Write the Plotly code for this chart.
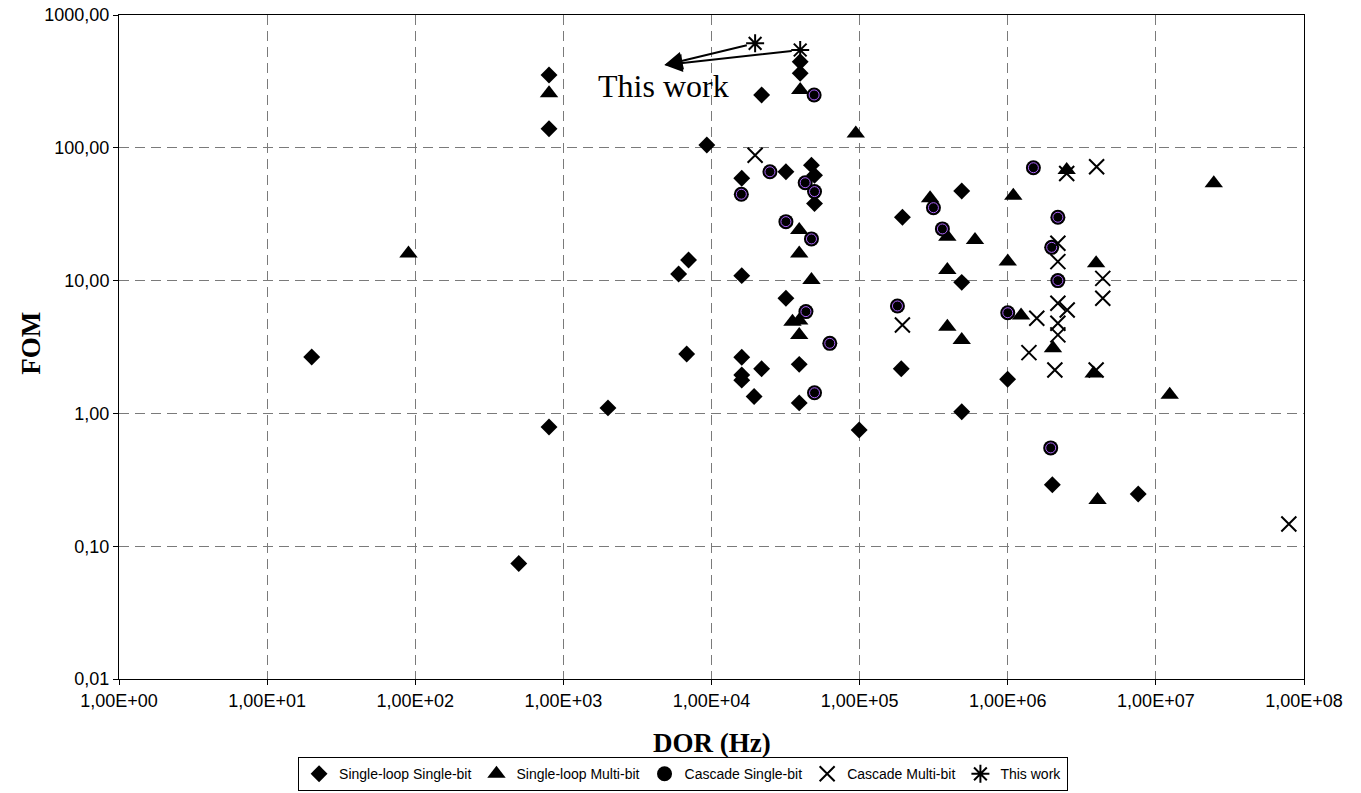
import numpy as np
import plotly.graph_objects as go

# ---------------- data ----------------
ss_x = [20, 500, 800, 800, 800, 2000, 6000, 7000, 6800, 9300, 16000, 16000, 16000, 16000, 16000,
        21800, 19400, 21800, 31800, 31800, 39100, 39100, 39700, 39700, 47300, 49600, 49600,
        99300, 194500, 191000, 489000, 489000, 489000, 998000, 2.0e6, 7.6e6]
ss_y = [2.66, 0.074, 0.79, 353, 139, 1.1, 11.2, 14.3, 2.8, 105, 59, 10.9, 2.65, 1.95, 1.78,
        2.17, 1.34, 250, 66, 7.36, 2.34, 1.2, 445, 364, 74, 62, 38,
        0.75, 30, 2.17, 47.3, 9.7, 1.03, 1.81, 0.29, 0.247]

sm_x = [90, 800, 39700, 94200, 39100, 39100, 47300, 35200, 39100, 39100, 299000, 391000, 601000,
        391000, 1.09e6, 1.0e6, 391000, 489000, 1.23e6, 2.02e6, 2.5e6, 3.95e6, 3.8e6, 2.46e7,
        1.24e7, 4.04e6]
sm_y = [16, 257, 272, 128, 24, 16, 10.1, 4.9, 5.0, 3.9, 41.7, 21.4, 20.2,
        12.0, 43.6, 13.9, 4.5, 3.57, 5.45, 3.09, 68, 13.5, 2.0, 54,
        1.38, 0.223]

cs_x = [49300, 24800, 15900, 42900, 49600, 31800, 47300, 43400, 62900, 49600, 180000, 1.49e6,
        315000, 362000, 2.18e6, 1.98e6, 2.18e6, 1.0e6, 1.95e6]
cs_y = [250, 66, 44.7, 54.6, 46.8, 27.8, 20.6, 5.84, 3.37, 1.43, 6.44, 70.8,
        35.4, 24.5, 30, 17.8, 10, 5.73, 0.55]

cm_x = [19700, 194500, 3.98e6, 2.5e6, 2.18e6, 2.18e6, 4.38e6, 4.38e6, 2.18e6, 2.52e6, 1.57e6,
        2.18e6, 2.18e6, 1.39e6, 2.08e6, 3.95e6, 7.9e7]
cm_y = [88, 4.63, 72, 64, 19.1, 13.9, 10.4, 7.36, 6.75, 6.0, 5.2,
        4.77, 3.9, 2.87, 2.12, 2.12, 0.147]

tw_x = [19700, 39700]
tw_y = [612, 545]

# "This work" label: arrow tip and text position (data units)
tw_tip = (4810, 420)
tw_text_pos = (1650, 292)

series_names = ["Single-loop Single-bit", "Single-loop Multi-bit", "Cascade Single-bit",
                "Cascade Multi-bit", "This work"]

x_tickvals = [1e0, 1e1, 1e2, 1e3, 1e4, 1e5, 1e6, 1e7, 1e8]
x_ticktext = ["1,00E+00", "1,00E+01", "1,00E+02", "1,00E+03", "1,00E+04", "1,00E+05",
              "1,00E+06", "1,00E+07", "1,00E+08"]
y_tickvals = [0.01, 0.1, 1, 10, 100, 1000]
y_ticktext = ["0,01", "0,10", "1,00", "10,00", "100,00", "1000,00"]

# ---------------- figure ----------------
fig = go.Figure()
fig.add_trace(go.Scatter(x=ss_x, y=ss_y, mode="markers", name=series_names[0],
                         marker=dict(symbol="diamond", size=13, color="black")))
fig.add_trace(go.Scatter(x=sm_x, y=sm_y, mode="markers", name=series_names[1],
                         marker=dict(symbol="triangle-up", size=16, color="black")))
fig.add_trace(go.Scatter(x=cs_x, y=cs_y, mode="markers", name=series_names[2],
                         marker=dict(symbol="circle", size=15, color="black")))
fig.add_trace(go.Scatter(x=cs_x, y=cs_y, mode="markers", showlegend=False, hoverinfo="skip",
                         marker=dict(symbol="circle-open", size=10,
                                     line=dict(color="#4a4a4a", width=1))))
fig.add_trace(go.Scatter(x=cm_x, y=cm_y, mode="markers", name=series_names[3],
                         marker=dict(symbol="x-thin", size=15, color="black",
                                     line=dict(color="black", width=2))))
fig.add_trace(go.Scatter(x=tw_x, y=tw_y, mode="markers", name=series_names[4],
                         marker=dict(symbol="asterisk", size=15, color="black",
                                     line=dict(color="black", width=2))))

annotations = []
for xv, yv in zip(tw_x, tw_y):
    annotations.append(dict(
        x=np.log10(tw_tip[0]), y=np.log10(tw_tip[1]), xref="x", yref="y",
        ax=np.log10(xv), ay=np.log10(yv), axref="x", ayref="y",
        text="", showarrow=True, arrowhead=2, arrowsize=1.8, arrowwidth=2,
        arrowcolor="black", startstandoff=7))
annotations.append(dict(
    x=np.log10(tw_text_pos[0]), y=np.log10(tw_text_pos[1]), xref="x", yref="y",
    text="This work", showarrow=False, xanchor="left", yanchor="middle",
    font=dict(family="Liberation Serif", size=32, color="black")))
annotations.append(dict(
    x=0.5, y=-0.097, xref="paper", yref="paper", text="<b>DOR (Hz)</b>",
    showarrow=False, xanchor="center", yanchor="middle",
    font=dict(family="Liberation Serif", size=27, color="black")))
annotations.append(dict(
    x=0, y=0.505, xref="paper", yref="paper", xshift=-88, text="<b>FOM</b>", textangle=-90,
    showarrow=False, xanchor="center", yanchor="middle",
    font=dict(family="Liberation Serif", size=27, color="black")))

fig.update_layout(
    width=1361, height=793,
    margin=dict(l=119, r=57, t=15, b=114, autoexpand=False),
    paper_bgcolor="white", plot_bgcolor="white",
    font=dict(family="Liberation Sans, Arial", size=14, color="black"),
    showlegend=True,
    legend=dict(orientation="h", x=0.476, xanchor="center", y=-0.169, yanchor="bottom",
                bordercolor="black", borderwidth=1, bgcolor="white",
                font=dict(family="Liberation Sans, Arial", size=14, color="black"),
                itemwidth=30, tracegroupgap=0),
    annotations=annotations,
)
fig.update_xaxes(type="log", range=[0, 8], tickvals=x_tickvals, ticktext=x_ticktext,
                 showgrid=True, gridcolor="#7a7a7a", griddash="10px,6px", gridwidth=1,
                 showline=True, linecolor="black", linewidth=1, mirror=True,
                 ticks="outside", ticklen=5, tickcolor="black", zeroline=False,
                 tickfont=dict(size=18, family="Liberation Sans, Arial"))
fig.update_yaxes(type="log", range=[-2, 3], tickvals=y_tickvals, ticktext=y_ticktext,
                 showgrid=True, gridcolor="#7a7a7a", griddash="10px,6px", gridwidth=1,
                 showline=True, linecolor="black", linewidth=1, mirror=True,
                 ticks="outside", ticklen=5, tickcolor="black", zeroline=False,
                 tickfont=dict(size=18, family="Liberation Sans, Arial"))

fig.write_html("out.html")
